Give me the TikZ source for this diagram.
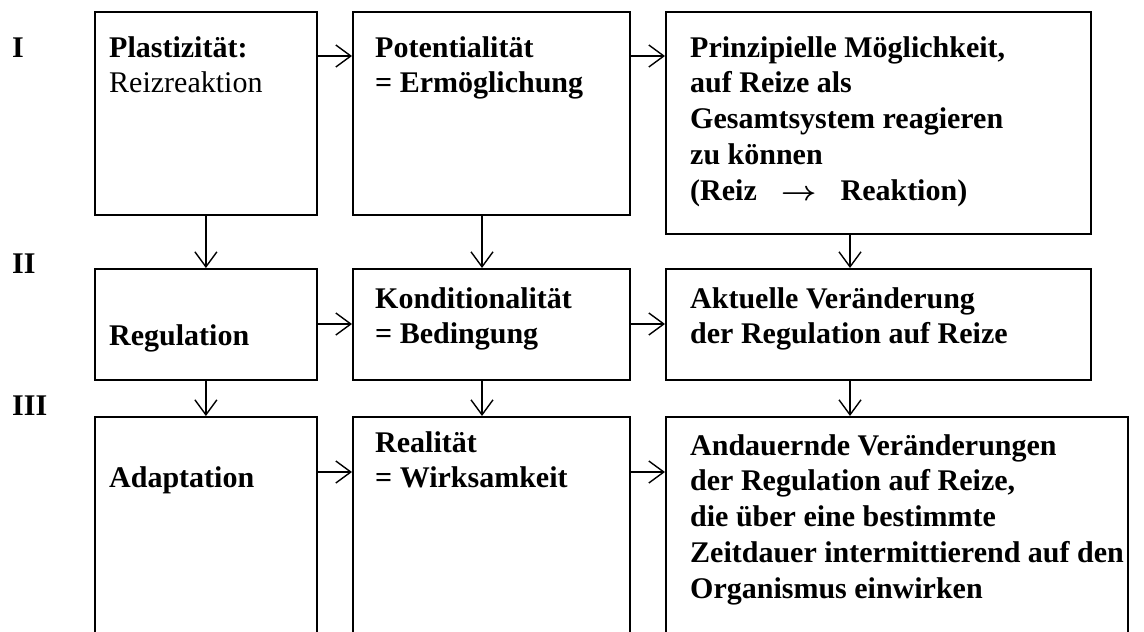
\documentclass[tikz,border=0pt]{standalone}
\usepackage{fontspec}
\setmainfont{Liberation Serif}
\usetikzlibrary{arrows.meta}
\begin{document}
\begin{tikzpicture}[x=1pt,y=-1pt,
  box/.style={draw, line width=1.8pt, inner sep=0pt, anchor=north west},
  txt/.style={anchor=north west, inner sep=0pt, align=left,
    font=\fontsize{30}{35.7}\selectfont\bfseries},
  arr/.style={line width=1.4pt, -{Straight Barb[length=15pt,width=22pt,line width=1.4pt]}}]
\newcommand{\fl}{\rule{0pt}{24pt}}
\useasboundingbox (0,0) rectangle (1144,632);
\clip (0,0) rectangle (1144,632);
% boxes
\node[box, minimum width=222pt, minimum height=203pt] (A1) at (94,11) {};
\node[box, minimum width=277pt, minimum height=203pt] (B1) at (352,11) {};
\node[box, minimum width=425pt, minimum height=222pt] (C1) at (665,11) {};
\node[box, minimum width=222pt, minimum height=111pt] (A2) at (94,268) {};
\node[box, minimum width=277pt, minimum height=111pt] (B2) at (352,268) {};
\node[box, minimum width=425pt, minimum height=111pt] (C2) at (665,268) {};
\node[box, minimum width=222pt, minimum height=240pt] (A3) at (94,416) {};
\node[box, minimum width=277pt, minimum height=240pt] (B3) at (352,416) {};
\node[box, minimum width=462pt, minimum height=240pt] (C3) at (665,416) {};
% row labels
\node[txt] (L1) at (12,57-24) {\fl I};
\node[txt] (L2) at (12,273-24) {\fl II};
\node[txt] (L3) at (12,415-24) {\fl III};
% texts
\node[txt] (tA1) at (109,57-24) {\fl Plastizität:\\\mdseries Reizreaktion};
\node[txt] (tB1) at (375,57-24) {\fl Potentialität\\= Ermöglichung};
\node[txt] (tC1) at (690,57-24) {\fl Prinzipielle Möglichkeit,\\auf Reize als\\Gesamtsystem reagieren\\zu können\\(Reiz\hspace{0.8em}\scalebox{1.25}[1.1]{\boldmath$\rightarrow$}\hspace{0.8em}Reaktion)};
\node[txt] (tA2) at (109,345-24) {\fl Regulation};
\node[txt] (tB2) at (375,308-24) {\fl Konditionalität\\= Bedingung};
\node[txt] (tC2) at (690,308-24) {\fl Aktuelle Veränderung\\der Regulation auf Reize};
\node[txt] (tA3) at (109,487-24) {\fl Adaptation};
\node[txt] (tB3) at (375,452-24) {\fl Realität\\= Wirksamkeit};
\node[txt] (tC3) at (690,455-24) {\fl Andauernde Veränderungen\\der Regulation auf Reize,\\die über eine bestimmte\\Zeitdauer intermittierend auf den\\Organismus einwirken};
% horizontal arrows
\draw[arr] (A1.east |- 0,56) -- (B1.west |- 0,56);
\draw[arr] (B1.east |- 0,56) -- (C1.west |- 0,56);
\draw[arr] (A2.east |- 0,324) -- (B2.west |- 0,324);
\draw[arr] (B2.east |- 0,324) -- (C2.west |- 0,324);
\draw[arr] (A3.east |- 0,472) -- (B3.west |- 0,472);
\draw[arr] (B3.east |- 0,472) -- (C3.west |- 0,472);
% vertical arrows
\draw[arr] (A1.south) -- (A2.north);
\draw[arr] (B1.south -| 482,0) -- (B2.north -| 482,0);
\draw[arr] (C1.south -| 850,0) -- (C2.north -| 850,0);
\draw[arr] (A2.south) -- (A3.north);
\draw[arr] (B2.south -| 482,0) -- (B3.north -| 482,0);
\draw[arr] (C2.south -| 850,0) -- (C3.north -| 850,0);
\end{tikzpicture}
\end{document}
